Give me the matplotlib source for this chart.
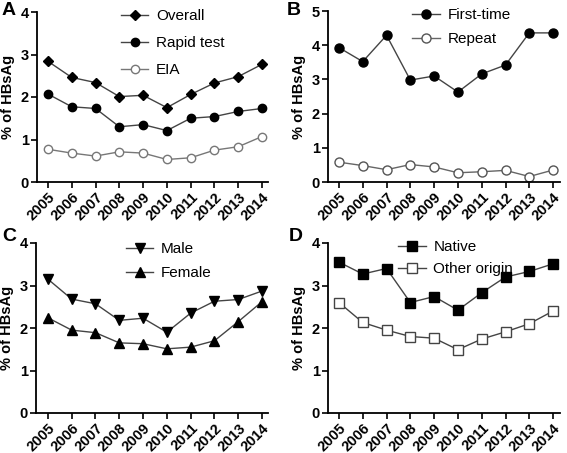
import matplotlib
matplotlib.use("Agg")
import matplotlib.pyplot as plt

plt.rcParams['font.family'] = ['Liberation Sans', 'DejaVu Sans']

years = [2005, 2006, 2007, 2008, 2009, 2010, 2011, 2012, 2013, 2014]
year_labels = [str(y) for y in years]

overall = [2.84, 2.46, 2.34, 2.01, 2.04, 1.75, 2.06, 2.33, 2.48, 2.77]
rapid = [2.07, 1.77, 1.73, 1.30, 1.35, 1.21, 1.50, 1.54, 1.66, 1.73]
eia = [0.77, 0.68, 0.61, 0.71, 0.68, 0.53, 0.57, 0.75, 0.83, 1.07]

first_time = [3.93, 3.52, 4.29, 2.98, 3.10, 2.63, 3.16, 3.42, 4.36, 4.36]
repeat = [0.58, 0.48, 0.36, 0.51, 0.44, 0.27, 0.30, 0.34, 0.16, 0.35]

male = [3.15, 2.68, 2.57, 2.18, 2.23, 1.90, 2.35, 2.63, 2.67, 2.87]
female = [2.24, 1.95, 1.89, 1.65, 1.63, 1.51, 1.55, 1.70, 2.15, 2.62]

native = [3.55, 3.27, 3.40, 2.60, 2.74, 2.42, 2.83, 3.20, 3.33, 3.51]
other_origin = [2.60, 2.13, 1.95, 1.80, 1.76, 1.49, 1.74, 1.91, 2.10, 2.40]

W, H = 567, 453
fig = plt.figure(figsize=(W / 100, H / 100), dpi=100)


def px_axes(left, top, right, bottom):
    return fig.add_axes([left / W, 1 - bottom / H, (right - left) / W, (bottom - top) / H])


def style(ax, ymax, xlim):
    x = list(range(len(years)))
    ax.set_xlim(*xlim)
    ax.set_ylim(0, ymax)
    ax.set_xticks(x)
    ax.set_xticklabels(year_labels, rotation=45, ha='right', rotation_mode='anchor',
                       fontsize=10.5, fontweight='bold')
    ax.set_yticks(range(0, ymax + 1))
    ax.set_yticklabels([str(v) for v in range(0, ymax + 1)], fontsize=10.5, fontweight='bold')
    for s in ['top', 'right']:
        ax.spines[s].set_visible(False)
    for s in ['left', 'bottom']:
        ax.spines[s].set_linewidth(1.3)
    ax.tick_params(direction='out', length=4, width=1.2, pad=2)
    ax.set_ylabel('% of HBsAg', fontsize=10.5, fontweight='bold', labelpad=4)


x = list(range(len(years)))
lc = '#444444'

# Panel A
axA = px_axes(37, 12, 268, 182)
axA.plot(x, overall, color=lc, lw=1.0, marker='D', ms=5.5, mfc='black', mec='black', label='Overall')
axA.plot(x, rapid, color=lc, lw=1.0, marker='o', ms=6, mfc='black', mec='black', label='Rapid test')
axA.plot(x, eia, color='#777777', lw=1.0, marker='o', ms=6, mfc='white', mec='#777777', label='EIA')
style(axA, 4, (-0.46, 9.25))
axA.legend(loc='upper left', bbox_to_anchor=(0.33, 1.06), frameon=False, fontsize=11,
           handlelength=1.8, handletextpad=0.5, labelspacing=0.85, borderpad=0)

# Panel B
axB = px_axes(328, 11, 560, 182)
axB.plot(x, first_time, color=lc, lw=1.0, marker='o', ms=6.5, mfc='black', mec='black', label='First-time')
axB.plot(x, repeat, color='#666666', lw=1.0, marker='o', ms=6.5, mfc='white', mec='#555555', label='Repeat')
style(axB, 5, (-0.46, 9.29))
axB.legend(loc='upper left', bbox_to_anchor=(0.33, 1.06), frameon=False, fontsize=11,
           handlelength=1.8, handletextpad=0.5, labelspacing=0.65, borderpad=0)

# Panel C
axC = px_axes(36, 243, 268, 413)
axC.plot(x, male, color=lc, lw=1.0, marker='v', ms=6.5, mfc='black', mec='black', label='Male')
axC.plot(x, female, color=lc, lw=1.0, marker='^', ms=6.5, mfc='black', mec='black', label='Female')
style(axC, 4, (-0.5, 9.25))
axC.legend(loc='upper left', bbox_to_anchor=(0.355, 1.05), frameon=False, fontsize=11,
           handlelength=1.8, handletextpad=0.5, labelspacing=0.65, borderpad=0)

# Panel D
axD = px_axes(328, 243, 560, 413)
axD.plot(x, native, color=lc, lw=1.0, marker='s', ms=6.5, mfc='black', mec='black', label='Native')
axD.plot(x, other_origin, color=lc, lw=1.0, marker='s', ms=6.5, mfc='white', mec='#444444', label='Other origin')
style(axD, 4, (-0.46, 9.29))
axD.legend(loc='upper left', bbox_to_anchor=(0.27, 1.06), frameon=False, fontsize=11,
           handlelength=1.8, handletextpad=0.5, labelspacing=0.5, borderpad=0)

for lbl, (px, py) in zip('ABCD', [(2, 2), (287, 2), (2, 228), (289, 228)]):
    fig.text(px / W, 1 - py / H, lbl, fontsize=14, fontweight='bold', ha='left', va='top')

fig.savefig('out.png', dpi=100)
